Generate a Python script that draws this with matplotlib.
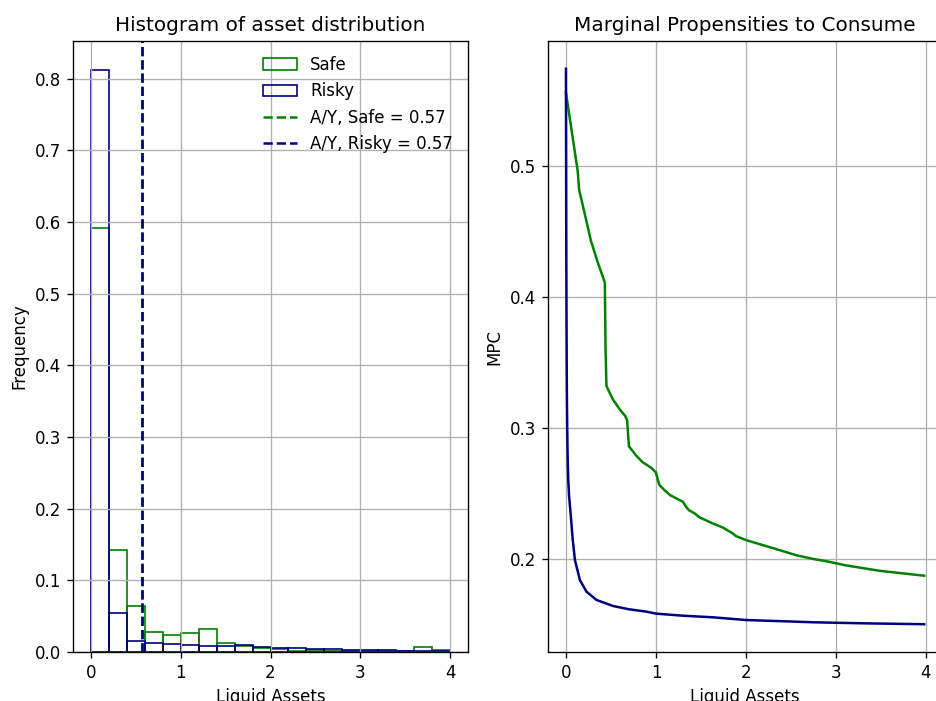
import numpy as np
import matplotlib
matplotlib.use('Agg')
import matplotlib.pyplot as plt

# Histogram bins (liquid assets) and frequencies per bin
bin_edges = np.round(np.arange(0, 4.01, 0.2), 2)
freq_safe = [0.592, 0.143, 0.064, 0.028, 0.024, 0.026, 0.032, 0.013, 0.009, 0.006,
             0.004, 0.002, 0.003, 0.002, 0.001, 0.001, 0.001, 0.001, 0.0065, 0.003]
freq_risky = [0.812, 0.055, 0.015, 0.0126, 0.0116, 0.0093, 0.0088, 0.0079, 0.0102, 0.0074,
              0.006, 0.005, 0.0047, 0.0042, 0.0033, 0.0028, 0.0023, 0.0019, 0.0014, 0.0014]
ay_safe = 0.57
ay_risky = 0.57

# MPC curves
a_safe = [0.0, 0.05, 0.13, 0.147, 0.2, 0.277, 0.35, 0.432, 0.44, 0.45, 0.52, 0.6, 0.66, 0.68,
          0.7, 0.78, 0.85, 0.95, 1.0, 1.022, 1.04, 1.096, 1.159, 1.30, 1.336, 1.366, 1.43,
          1.484, 1.631, 1.742, 1.853, 1.89, 2.0, 2.185, 2.37, 2.555, 2.74, 2.92, 3.11,
          3.48, 3.98]
mpc_safe = [0.5558, 0.533, 0.4962, 0.4815, 0.466, 0.443, 0.427, 0.411, 0.36, 0.332, 0.322,
            0.314, 0.309, 0.3055, 0.286, 0.279, 0.274, 0.2695, 0.266, 0.260, 0.2564, 0.2525,
            0.2487, 0.2437, 0.2398, 0.2373, 0.2348, 0.2318, 0.2272, 0.2241, 0.2196, 0.2175,
            0.2145, 0.2107, 0.2069, 0.2030, 0.2002, 0.198, 0.1952, 0.1911, 0.1873]
a_risky = [0.0, 0.002, 0.004, 0.007, 0.01, 0.014, 0.019, 0.026, 0.035, 0.052, 0.075, 0.1,
           0.155, 0.229, 0.34, 0.524, 0.7, 0.893, 1.0, 1.3, 1.63, 2.0, 2.4, 2.74, 3.3, 3.98]
mpc_risky = [0.574, 0.50, 0.43, 0.37, 0.33, 0.30, 0.278, 0.26, 0.248, 0.2348, 0.215, 0.1992,
             0.184, 0.1751, 0.1688, 0.1642, 0.1617, 0.1599, 0.1584, 0.1568, 0.1556, 0.1535,
             0.1526, 0.1518, 0.1510, 0.1503]

# 936x701 px at dpi 120
fig = plt.figure(figsize=(7.8, 701 / 120), dpi=120)
ax1 = fig.add_axes([0.078, 0.0699, 0.422, 0.8716])
ax2 = fig.add_axes([0.5855, 0.0699, 0.421, 0.8716])

# Left: histogram
h_safe = ax1.bar(bin_edges[:-1], freq_safe, width=0.2, align='edge', fill=False,
                 edgecolor='green', label='Safe')
h_risky = ax1.bar(bin_edges[:-1], freq_risky, width=0.2, align='edge', fill=False,
                  edgecolor='navy', label='Risky')
l_safe = ax1.axvline(ay_safe, color='green', linestyle='--',
                     label=f'A/Y, Safe = {ay_safe:.2f}')
l_risky = ax1.axvline(ay_risky, color='navy', linestyle='--',
                      label=f'A/Y, Risky = {ay_risky:.2f}')
ax1.set_title('Histogram of asset distribution')
ax1.set_xlabel('Liquid Assets')
ax1.set_ylabel('Frequency')
ax1.grid(True)
ax1.legend(handles=[h_safe, h_risky, l_safe, l_risky], frameon=False, loc='upper right')

# Right: MPC
ax2.plot(a_safe, mpc_safe, color='green')
ax2.plot(a_risky, mpc_risky, color='navy')
ax2.set_title('Marginal Propensities to Consume')
ax2.set_xlabel('Liquid Assets')
ax2.set_ylabel('MPC')
ax2.set_yticks([0.2, 0.3, 0.4, 0.5])
ax2.grid(True)

fig.savefig('out.png', dpi=120)
